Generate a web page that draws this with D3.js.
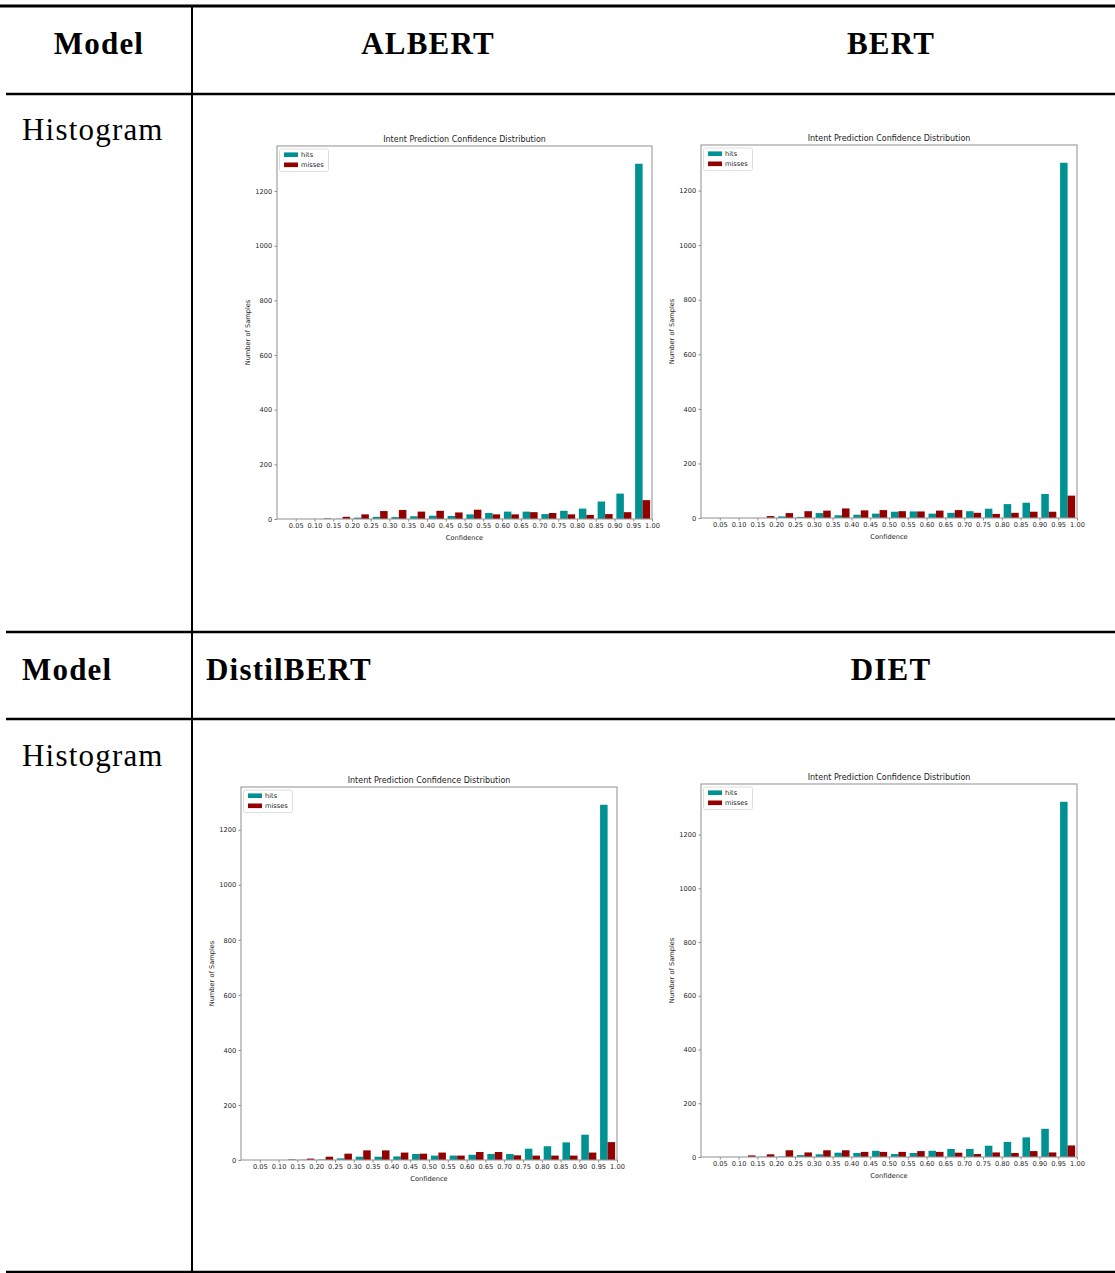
<!DOCTYPE html>
<html>
<head>
<meta charset="utf-8">
<script src="https://cdn.jsdelivr.net/npm/d3@7/dist/d3.min.js"></script>
<style>
    body { margin: 0; background: #fff; }
    svg { display: block; }
</style>
</head>
<body>
<svg id="page" width="1115" height="1273"></svg>
<script>
//
// DATA
//
// histogram bin edges (0.05 .. 1.00), also used as x tick labels
const binEdges = [0.05, 0.1, 0.15, 0.2, 0.25, 0.3, 0.35, 0.4, 0.45, 0.5,
    0.55, 0.6, 0.65, 0.7, 0.75, 0.8, 0.85, 0.9, 0.95, 1.0]
const yTicks = [0, 200, 400, 600, 800, 1000, 1200]
const seriesNames = ['hits', 'misses']
const models = ['ALBERT', 'BERT', 'DistilBERT', 'DIET']

// counts per bin (19 bins, first one is 0.05-0.10)
const albertHits = [0, 0, 1, 5, 8, 7, 10, 12, 11, 17, 22, 27, 27, 18, 30, 38, 64, 93, 1300]
const albertMisses = [0, 2, 8, 17, 29, 33, 27, 30, 24, 34, 17, 17, 25, 22, 17, 15, 18, 25, 69]
const bertHits = [0, 0, 0, 6, 4, 18, 10, 12, 16, 23, 24, 16, 19, 25, 34, 51, 56, 88, 1302]
const bertMisses = [0, 0, 7, 18, 25, 27, 35, 28, 29, 25, 24, 27, 29, 19, 15, 19, 23, 23, 82]
const distilHits = [0, 0, 1, 2, 6, 12, 12, 13, 22, 16, 16, 19, 22, 22, 41, 50, 64, 92, 1291]
const distilMisses = [0, 2, 5, 12, 23, 35, 35, 27, 23, 27, 16, 29, 29, 17, 16, 16, 16, 27, 65]
const dietHits = [0, 0, 1, 2, 7, 10, 16, 15, 23, 11, 15, 23, 30, 30, 42, 56, 73, 105, 1322]
const dietMisses = [0, 6, 10, 25, 17, 25, 25, 19, 19, 19, 22, 19, 16, 11, 17, 15, 22, 17, 43]

const colors = ['#009292', '#920000']
const serif = '"Liberation Serif", "Times New Roman", serif'
const sans = '"DejaVu Sans", sans-serif'

const svg = d3.select('#page')

//
// TABLE
//
const rules = [
    { x1: 0, x2: 1115, y: 6, w: 3 },
    { x1: 6, x2: 1115, y: 94, w: 2.5 },
    { x1: 6, x2: 1115, y: 632, w: 2.5 },
    { x1: 6, x2: 1115, y: 719, w: 2.5 },
    { x1: 6, x2: 1115, y: 1272, w: 2.5 }
]
svg.selectAll('line.rule')
    .data(rules)
    .enter()
    .append('line')
    .attr('class', 'rule')
    .attr('x1', d => d.x1)
    .attr('x2', d => d.x2)
    .attr('y1', d => d.y)
    .attr('y2', d => d.y)
    .attr('stroke', '#000')
    .attr('stroke-width', d => d.w)
// column divider
svg.append('line')
    .attr('x1', 192).attr('x2', 192)
    .attr('y1', 6).attr('y2', 1273)
    .attr('stroke', '#000')
    .attr('stroke-width', 2)

const cells = [
    { t: 'Model', x: 99, y: 54, anchor: 'middle', bold: true },
    { t: models[0], x: 428, y: 54, anchor: 'middle', bold: true },
    { t: models[1], x: 891, y: 54, anchor: 'middle', bold: true },
    { t: 'Histogram', x: 22, y: 140, anchor: 'start', bold: false },
    { t: 'Model', x: 22, y: 680, anchor: 'start', bold: true },
    { t: models[2], x: 206, y: 680, anchor: 'start', bold: true },
    { t: models[3], x: 891, y: 680, anchor: 'middle', bold: true },
    { t: 'Histogram', x: 22, y: 766, anchor: 'start', bold: false }
]
svg.selectAll('text.cell')
    .data(cells)
    .enter()
    .append('text')
    .attr('class', 'cell')
    .attr('x', d => d.x)
    .attr('y', d => d.y)
    .attr('text-anchor', d => d.anchor)
    .style('font-family', serif)
    .style('font-size', '31px')
    .style('letter-spacing', '1.2px')
    .style('font-weight', d => (d.bold ? 'bold' : 'normal'))
    .text(d => d.t)

//
// HISTOGRAMS
//
const drawHistogram = (box, hits, misses) => {
    const g = svg.append('g').attr('transform', `translate(${box.x},${box.y})`)
    const x = d3.scaleLinear().domain([0, 1]).range([0, box.w])
    const y = d3
        .scaleLinear()
        .domain([0, d3.max(hits.concat(misses)) * 1.05])
        .range([box.h, 0])
    const binW = 0.05
    const barW = (0.8 * binW) / 2

    // bars, hits left and misses right in each bin
    ;[hits, misses].forEach((vals, k) => {
        g.append('g')
            .selectAll('rect')
            .data(vals)
            .enter()
            .append('rect')
            .attr('x', (d, i) => x(binEdges[i] + 0.1 * binW + k * barW))
            .attr('width', x(barW) - x(0))
            .attr('y', d => y(d))
            .attr('height', d => y(0) - y(d))
            .attr('fill', colors[k])
    })

    // axes
    const yAxis = g.append('g').call(
        d3
            .axisLeft(y)
            .tickValues(yTicks)
            .tickFormat(d3.format('d'))
            .tickSize(2.5)
            .tickPadding(2.3)
    )
    const xAxis = g
        .append('g')
        .attr('transform', `translate(0,${box.h})`)
        .call(
            d3
                .axisBottom(x)
                .tickValues(binEdges)
                .tickFormat(d3.format('.2f'))
                .tickSize(2.5)
                .tickPadding(2)
        )
    ;[xAxis, yAxis].forEach(a => {
        a.select('.domain').remove()
        a.selectAll('line').attr('stroke', '#555').attr('stroke-width', 0.7)
        a.selectAll('text')
            .style('font-family', sans)
            .style('font-size', '6.65px')
            .attr('fill', '#222')
    })

    // frame
    g.append('rect')
        .attr('width', box.w)
        .attr('height', box.h)
        .attr('fill', 'none')
        .attr('stroke', '#999')
        .attr('stroke-width', 1.1)

    // labels
    g.append('text')
        .attr('x', box.w / 2)
        .attr('y', -4.3)
        .attr('text-anchor', 'middle')
        .style('font-family', sans)
        .style('font-size', '8px')
        .attr('fill', '#222')
        .text('Intent Prediction Confidence Distribution')
    g.append('text')
        .attr('x', box.w / 2)
        .attr('y', box.h + 20.5)
        .attr('text-anchor', 'middle')
        .style('font-family', sans)
        .style('font-size', '6.65px')
        .attr('fill', '#222')
        .text('Confidence')
    g.append('text')
        .attr('transform', `translate(-27.5,${box.h / 2}) rotate(-90)`)
        .attr('text-anchor', 'middle')
        .style('font-family', sans)
        .style('font-size', '6.65px')
        .attr('fill', '#222')
        .text('Number of Samples')

    // legend
    const lg = g.append('g').attr('transform', 'translate(2.5,3)')
    lg.append('rect')
        .attr('width', 49)
        .attr('height', 22.5)
        .attr('rx', 2)
        .attr('fill', '#fff')
        .attr('stroke', '#d6d6d6')
        .attr('stroke-width', 0.8)
    seriesNames.forEach((name, k) => {
        lg.append('rect')
            .attr('x', 4.5)
            .attr('y', 3.4 + k * 10.1)
            .attr('width', 14)
            .attr('height', 4.6)
            .attr('fill', colors[k])
        lg.append('text')
            .attr('x', 21.5)
            .attr('y', 8.2 + k * 10.1)
            .style('font-family', sans)
            .style('font-size', '6.65px')
            .attr('fill', '#222')
            .text(name)
    })
}

drawHistogram({ x: 277, y: 146, w: 375, h: 373 }, albertHits, albertMisses)
drawHistogram({ x: 701, y: 145, w: 376, h: 373 }, bertHits, bertMisses)
drawHistogram({ x: 241, y: 787, w: 376, h: 373 }, distilHits, distilMisses)
drawHistogram({ x: 701, y: 784, w: 376, h: 373 }, dietHits, dietMisses)
</script>
</body>
</html>
